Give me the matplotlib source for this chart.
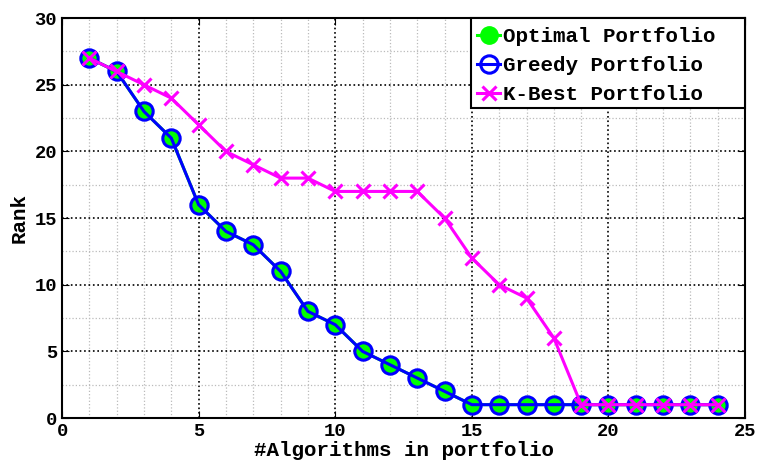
import matplotlib
matplotlib.use("Agg")
import matplotlib.pyplot as plt
from matplotlib.ticker import MultipleLocator
from matplotlib.patches import Rectangle

n_algos = list(range(1, 25))
optimal = [27, 26, 23, 21, 16, 14, 13, 11, 8, 7, 5, 4, 3, 2, 1, 1, 1, 1, 1, 1, 1, 1, 1, 1]
greedy = [27, 26, 23, 21, 16, 14, 13, 11, 8, 7, 5, 4, 3, 2, 1, 1, 1, 1, 1, 1, 1, 1, 1, 1]
kbest = [27, 26, 25, 24, 22, 20, 19, 18, 18, 17, 17, 17, 17, 15, 12, 10, 9, 6, 1, 1, 1, 1, 1, 1]

plt.rcParams['font.family'] = ['Liberation Mono', 'DejaVu Sans Mono']
plt.rcParams['font.weight'] = 'bold'

fig = plt.figure(figsize=(7.59, 4.66), dpi=100)
ax = fig.add_axes([0.0817, 0.103, 0.9, 0.858])

ax.plot(n_algos, optimal, color='#00ff00', marker='o', markersize=12.5, markerfacecolor='#00ff00',
        markeredgecolor='#00ff00', linewidth=2.2, label='Optimal Portfolio', zorder=3)
ax.plot(n_algos, greedy, color='#0000ff', marker='o', markersize=12.5, markerfacecolor='none',
        markeredgecolor='#0000ff', markeredgewidth=2.2, linewidth=2.2, label='Greedy Portfolio', zorder=4)
ax.plot(n_algos, kbest, color='#ff00ff', marker='x', markersize=9.5, markeredgewidth=2.2,
        linewidth=2.2, label='K-Best Portfolio', zorder=5)

ax.set_xlim(0, 25)
ax.set_ylim(0, 30)
ax.xaxis.set_major_locator(MultipleLocator(5))
ax.xaxis.set_minor_locator(MultipleLocator(1))
ax.yaxis.set_major_locator(MultipleLocator(5))
ax.yaxis.set_minor_locator(MultipleLocator(2.5))
ax.grid(which='major', color='black', linestyle=':', linewidth=1.2)
ax.grid(which='minor', color='#bbbbbb', linestyle=':', linewidth=0.9)
ax.set_axisbelow(True)
ax.tick_params(which='both', direction='in', top=True, right=True, labelsize=13.5)
ax.tick_params(which='major', length=5)
ax.tick_params(which='minor', length=0)
for s in ax.spines.values():
    s.set_linewidth(1.5)

ax.set_xlabel('#Algorithms in portfolio', fontsize=15, fontweight='bold', labelpad=1)
ax.set_ylabel('Rank', fontsize=15, fontweight='bold', labelpad=4)

# legend box (MATLAB-like, with extra right padding)
box_x0, box_y0 = 0.599, 0.775
ax.add_patch(Rectangle((box_x0, box_y0), 1.0 - box_x0, 1.0 - box_y0, transform=ax.transAxes,
                       facecolor='white', edgecolor='black', linewidth=1.5, zorder=10, clip_on=False))
leg = ax.legend(loc='upper left', bbox_to_anchor=(box_x0 - 0.004, 1.0), fontsize=15, frameon=False,
                borderaxespad=0, handlelength=1.1, handletextpad=0.15, borderpad=0.42,
                labelspacing=0.48)
leg.set_zorder(11)

fig.savefig('out.png', dpi=100)
